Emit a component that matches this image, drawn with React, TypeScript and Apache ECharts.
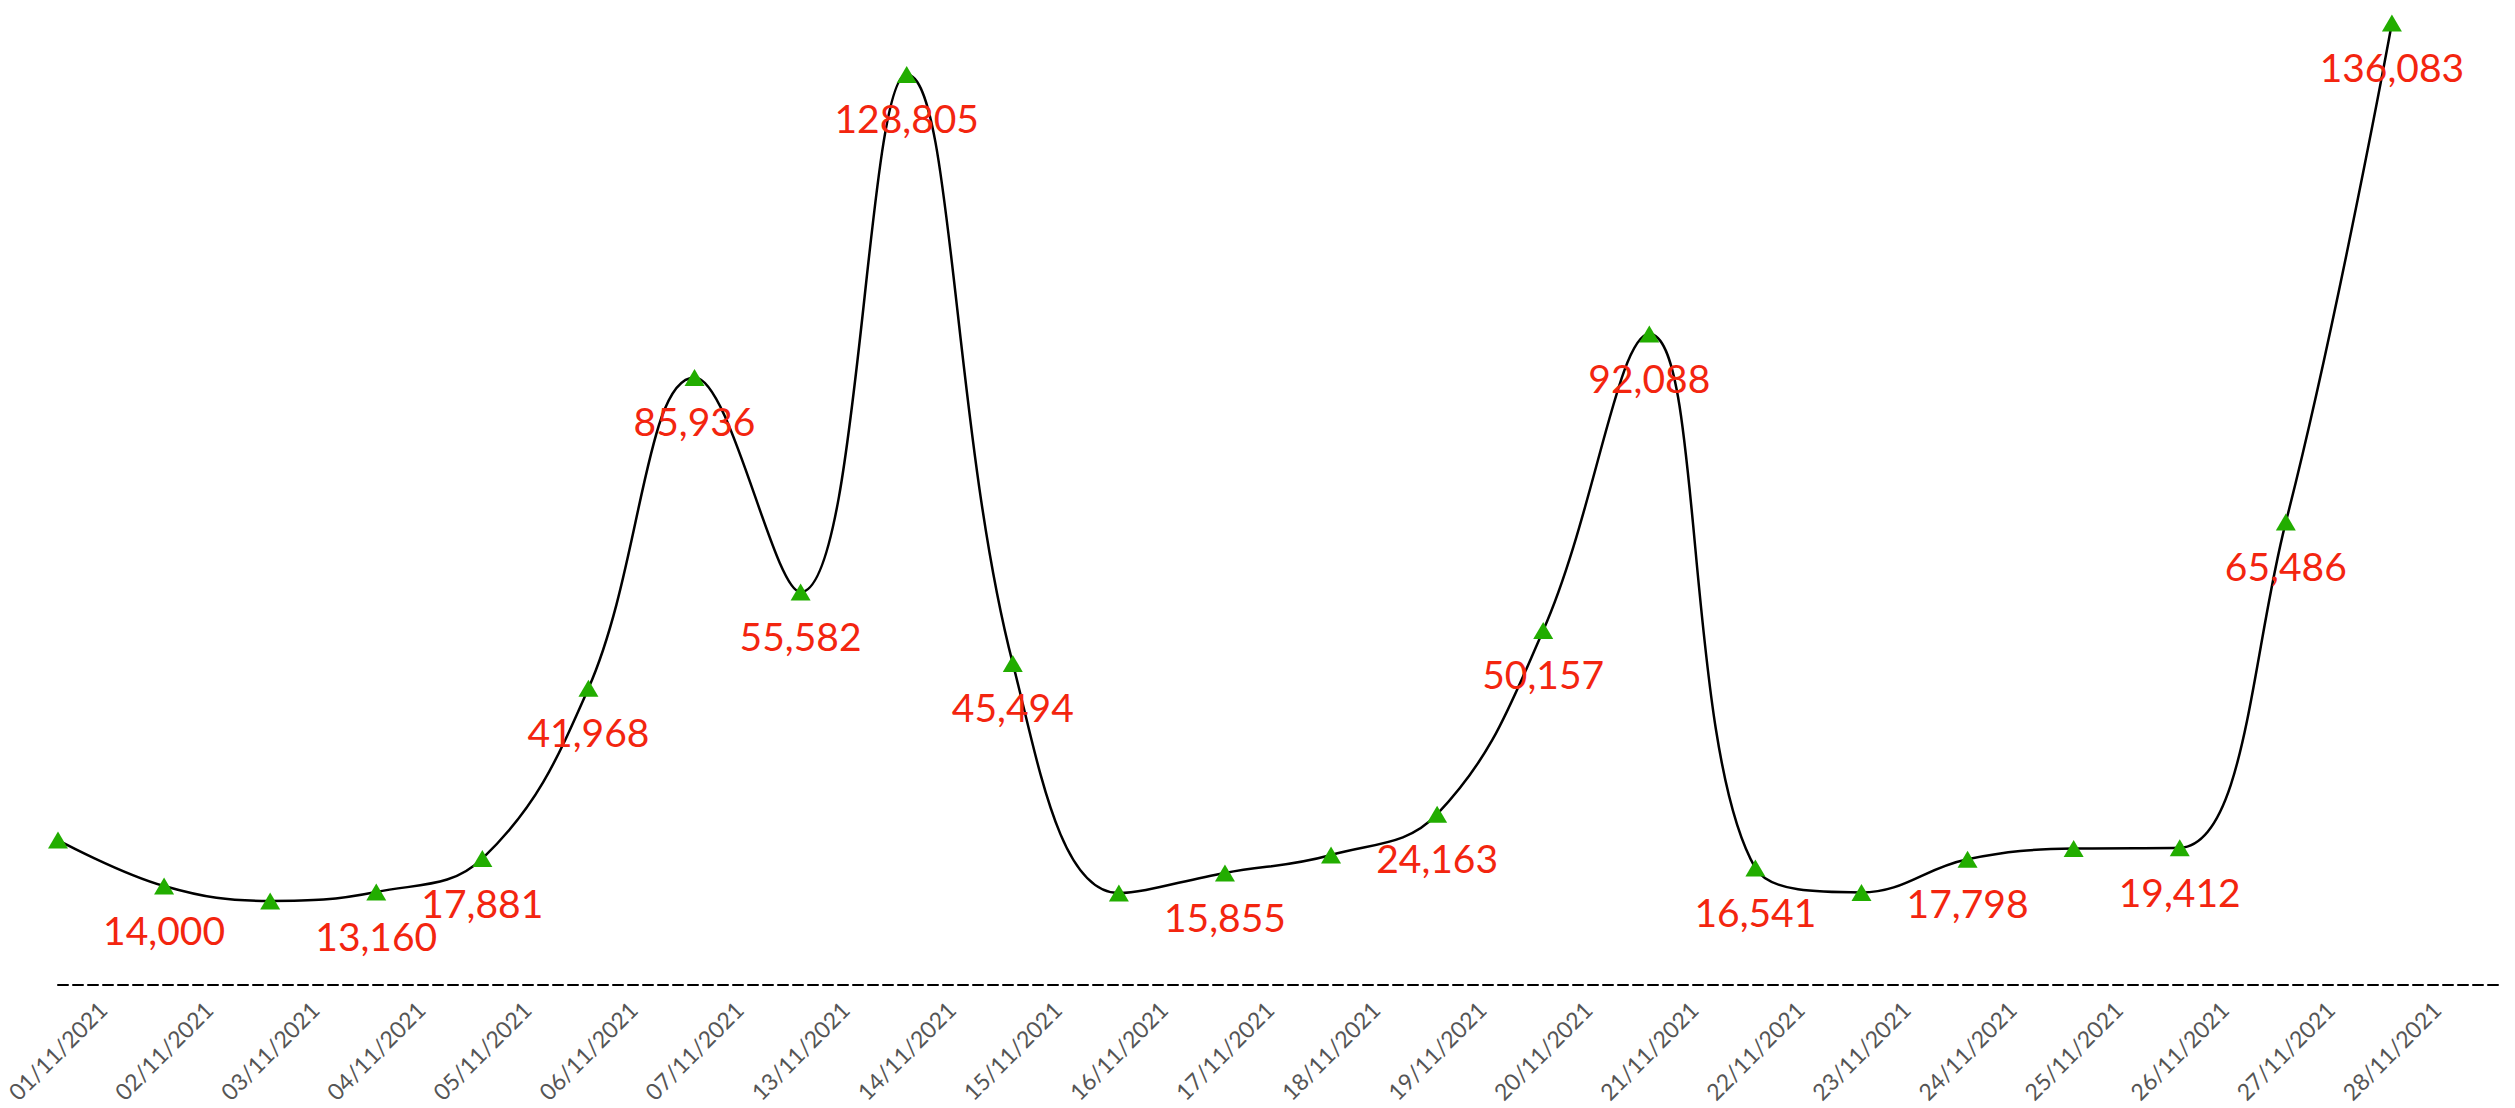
import React, { useEffect, useRef } from "react";
import * as echarts from "echarts";

const categories = [
  "01/11/2021", "02/11/2021", "03/11/2021", "04/11/2021", "05/11/2021", "06/11/2021",
  "07/11/2021", "13/11/2021", "14/11/2021", "15/11/2021", "16/11/2021", "17/11/2021",
  "18/11/2021", "19/11/2021", "20/11/2021", "21/11/2021", "22/11/2021", "23/11/2021",
  "24/11/2021", "25/11/2021", "26/11/2021", "27/11/2021", "28/11/2021",
];

const values = [
  20500, 14000, 11900, 13160, 17881, 41968, 85936, 55582, 128805, 45494, 13000, 15855,
  18400, 24163, 50157, 92088, 16541, 13100, 17798, 19300, 19412, 65486, 136083,
];

const labelShown = [
  false, true, false, true, true, true, true, true, true, true, false, true,
  false, true, true, true, true, false, true, false, true, true, true,
];

export default function App() {
  const ref = useRef<HTMLDivElement>(null);
  useEffect(() => {
    document.body.style.margin = "0";
    const chart = echarts.init(ref.current!, null, { renderer: "svg" });
    chart.setOption({
      animation: false,
      grid: { left: 58, right: 17, top: 23, bottom: 123 },
      xAxis: [
        {
          type: "category",
          data: categories,
          boundaryGap: true,
          axisLine: { show: true, lineStyle: { color: "#000", width: 2, type: [10, 5] } },
          axisTick: { show: false },
          splitLine: { show: false },
          axisLabel: {
            rotate: 45,
            color: "#555",
            fontSize: 23,
            margin: 12,
            padding: [0, 12, 0, 0],
            fontFamily: "Lato",
            interval: 0,
          },
        },
        { type: "value", min: 0, max: categories.length, show: false },
      ],
      yAxis: {
        type: "value",
        min: 0,
        max: "dataMax",
        show: false,
        splitLine: { show: false },
      },
      series: [
        {
          type: "line",
          xAxisIndex: 1,
          smooth: 0.4,
          symbol: "triangle",
          symbolSize: [20, 17],
          itemStyle: { color: "#22ad00" },
          lineStyle: { color: "#000", width: 2.5 },
          label: {
            position: "bottom",
            distance: 16,
            color: "#f3250f",
            fontSize: 39,
            fontFamily: "Lato",
            formatter: (p: any) => Number(p.value[1]).toLocaleString("en-US"),
          },
          data: values.map((v, i) => ({ value: [i, v], label: { show: labelShown[i] } })),
        },
      ],
    });
    return () => chart.dispose();
  }, []);
  return <div ref={ref} style={{ width: 2515, height: 1108 }} />;
}
